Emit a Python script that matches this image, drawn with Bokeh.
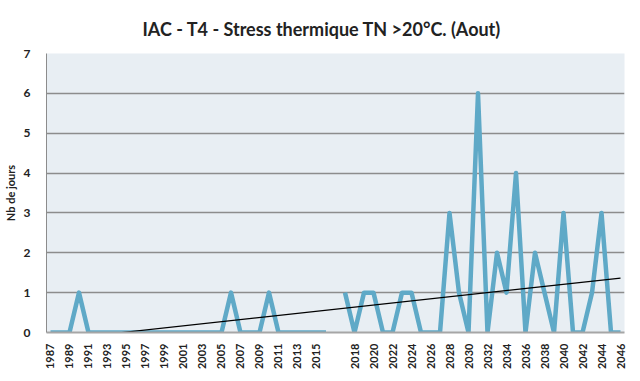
import math
import numpy as np
from bokeh.plotting import figure
from bokeh.models import FixedTicker, Range1d, ColumnDataSource
from bokeh.embed import file_html
from bokeh.resources import INLINE

# ---- data ----
years_a = ["1987", "1988", "1989", "1990", "1991", "1992", "1993", "1994", "1995", "1996",
           "1997", "1998", "1999", "2000", "2001", "2002", "2003", "2004", "2005", "2006",
           "2007", "2008", "2009", "2010", "2011", "2012", "2013", "2014", "2015", "2016"]
values_a = [0, 0, 0, 1, 0, 0, 0, 0, 0, 0,
            0, 0, 0, 0, 0, 0, 0, 0, 0, 1,
            0, 0, 0, 1, 0, 0, 0, 0, 0, 0]
years_b = ["2017", "2018", "2019", "2020", "2021", "2022", "2023", "2024", "2025", "2026",
           "2027", "2028", "2029", "2030", "2031", "2032", "2033", "2034", "2035", "2036",
           "2037", "2038", "2039", "2040", "2041", "2042", "2043", "2044", "2045", "2046"]
values_b = [1, 0, 1, 1, 0, 0, 1, 1, 0, 0,
            0, 3, 1, 0, 6, 0, 2, 1, 4, 0,
            2, 1, 0, 3, 0, 0, 1, 3, 0, 0]
gap_label = [""]
gap_value = [np.nan]

categories = years_a + gap_label + years_b
values = values_a + gap_value + values_b
xs = list(range(len(categories)))

title_text = "IAC - T4 - Stress thermique TN >20°C. (Aout)"
y_label = "Nb de jours"
FONT = "Lato"

# trend line (least squares over available values)
arr = np.array(values, dtype=float)
xa = np.array(xs, dtype=float)
mask = ~np.isnan(arr)
slope, intercept = np.polyfit(xa[mask], arr[mask], 1)
trend_x = [xs[0], xs[-1]]
trend_y = [intercept + slope * xs[0], intercept + slope * xs[-1]]

p = figure(width=632, height=373, output_backend="svg", toolbar_location=None,
           x_range=Range1d(-0.42, len(categories) - 1 + 0.42), y_range=Range1d(0, 7),
           min_border_left=40, min_border_right=8, min_border_top=53, min_border_bottom=41)

p.title.text = title_text
p.title.align = "left"
p.title.offset = 96
p.title.text_font = FONT
p.title.text_font_size = "18px"
p.title.text_font_style = "bold"
p.title.text_color = "#222222"
p.title.standoff = 28

p.background_fill_color = "#E8EEF3"
p.border_fill_color = "white"
p.outline_line_color = None

src = ColumnDataSource(dict(x=xs, y=values))
p.line("x", "y", source=src, line_color="#5FA9C7", line_width=4.5, line_join="round")
p.line(trend_x, trend_y, line_color="black", line_width=1.2)

# axes
p.xaxis.ticker = FixedTicker(ticks=xs[::2])
p.xaxis.major_label_overrides = {i: categories[i] for i in xs[::2]}
p.xaxis.major_label_orientation = math.pi / 2
p.xaxis.major_label_text_font = FONT
p.xaxis.major_label_text_font_style = "bold"
p.xaxis.major_label_text_font_size = "11px"
p.xaxis.major_label_text_color = "#222222"
p.xaxis.axis_line_color = "#A6A6A6"
p.xaxis.axis_line_width = 2
p.xaxis.major_tick_line_color = None
p.xaxis.minor_tick_line_color = None
p.xaxis.major_label_standoff = 5

p.yaxis.ticker = FixedTicker(ticks=[0, 1, 2, 3, 4, 5, 6, 7])
p.yaxis.major_label_text_font = FONT
p.yaxis.major_label_text_font_style = "bold"
p.yaxis.major_label_text_font_size = "12px"
p.yaxis.major_label_text_color = "#222222"
p.yaxis.axis_line_color = "#8C8C8C"
p.yaxis.axis_line_width = 1
p.yaxis.major_tick_line_color = None
p.yaxis.minor_tick_line_color = None
p.yaxis.major_label_standoff = 10
p.yaxis.axis_label = y_label
p.yaxis.axis_label_text_font = FONT
p.yaxis.axis_label_text_font_style = "bold"
p.yaxis.axis_label_text_font_size = "11px"
p.yaxis.axis_label_text_color = "#222222"
p.yaxis.axis_label_standoff = 4

p.xgrid.grid_line_color = None
p.ygrid.grid_line_color = "#8C8C8C"
p.ygrid.grid_line_width = 1.5

open("out.html", "w").write(file_html(p, INLINE))
